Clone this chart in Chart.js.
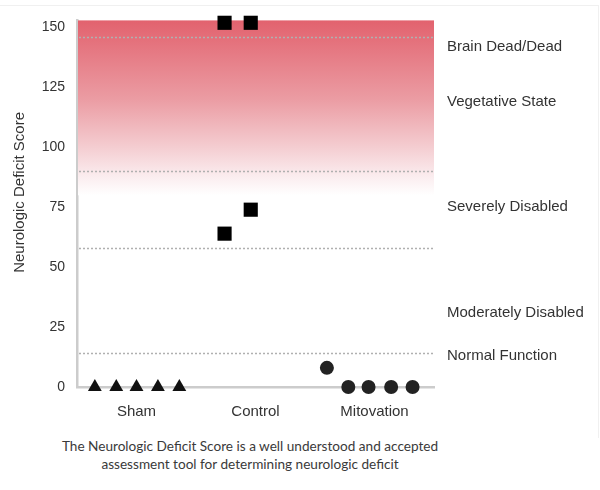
<!DOCTYPE html>
<html>
<head>
<meta charset="utf-8">
<script src="https://cdn.jsdelivr.net/npm/chart.js@4"></script>
<style>
  body { margin: 0; background: #fff; }
  #frame { position: absolute; left: 0; top: 5px; width: 598px; height: 432px; border-top: 1px solid #f0f0f0; border-right: 1px solid #f0f0f0; }
  #wrap { position: absolute; left: 0; top: 0; width: 600px; height: 430px; }
  #caption { position: absolute; left: 0; top: 437px; width: 500px; text-align: center;
    font-family: Lato, "Open Sans", sans-serif; font-size: 13.6px; line-height: 18px; color: #3a3a3a; }
</style>
</head>
<body>
<div id="frame"></div>
<div id="wrap"><canvas id="ndsChart"></canvas></div>
<div id="caption">The Neurologic Deficit Score is a well understood and accepted<br>assessment tool for determining neurologic deficit</div>
<script>
// groups on the x axis
const groups = ['Sham', 'Control', 'Mitovation'];

// neurologic deficit scores per animal
const shamScores = [0, 0, 0, 0, 0];
const controlScores = [152, 152, 64, 74];
const mitovationScores = [8, 0, 0, 0, 0];

// horizontal spread of points inside each group (beeswarm jitter)
const shamJitter = [-0.35, -0.17, 0, 0.18, 0.36];
const controlJitter = [-0.26, -0.04, -0.26, -0.04];
const mitovationJitter = [-0.40, -0.22, -0.05, 0.14, 0.32];

// dotted threshold lines and zone names on the right
const thresholds = [146, 90, 58, 14];
const zoneLabels = ['Brain Dead/Dead', 'Vegetative State', 'Severely Disabled', 'Moderately Disabled', 'Normal Function'];
const zoneLabelScores = [142, 119, 75, 31, 13];

const yTicks = [0, 25, 50, 75, 100, 125, 150];
const yTitle = 'Neurologic Deficit Score';

function toPoints(groupIndex, scores, jitter) {
  return scores.map((s, i) => ({ x: groupIndex + jitter[i], y: s }));
}

const FONT = '"Liberation Sans", Arial, sans-serif';

const zonesPlugin = {
  id: 'zones',
  beforeDatasetsDraw(chart) {
    const { ctx, chartArea, scales } = chart;
    const y = scales.y;
    const top = chartArea.top;
    const fadeEnd = y.getPixelForValue(80);
    ctx.save();
    const grad = ctx.createLinearGradient(0, top, 0, fadeEnd);
    grad.addColorStop(0, 'rgb(226,98,110)');
    grad.addColorStop(0.45, 'rgb(235,156,163)');
    grad.addColorStop(0.72, 'rgb(244,204,208)');
    grad.addColorStop(0.9, 'rgb(251,238,240)');
    grad.addColorStop(1, 'rgb(255,255,255)');
    ctx.fillStyle = grad;
    ctx.fillRect(chartArea.left + 1, top, chartArea.right - chartArea.left - 1, fadeEnd - top);

    // dotted threshold lines
    ctx.strokeStyle = '#b0b0b0';
    ctx.lineWidth = 1.5;
    ctx.setLineDash([2, 2]);
    thresholds.forEach(t => {
      const py = Math.round(y.getPixelForValue(t)) + 0.5;
      ctx.beginPath();
      ctx.moveTo(chartArea.left + 2, py);
      ctx.lineTo(chartArea.right, py);
      ctx.stroke();
    });
    ctx.restore();
  },
  afterDraw(chart) {
    const { ctx, chartArea, scales } = chart;
    ctx.save();
    ctx.font = '15px ' + FONT;
    ctx.fillStyle = '#333';
    ctx.textAlign = 'left';
    ctx.textBaseline = 'middle';
    zoneLabels.forEach((label, i) => {
      ctx.fillText(label, chartArea.right + 13, scales.y.getPixelForValue(zoneLabelScores[i]));
    });

    // y axis title, sits a little above the middle of the axis
    ctx.translate(20, chartArea.top + 172);
    ctx.rotate(-Math.PI / 2);
    ctx.textAlign = 'center';
    ctx.fillText(yTitle, 0, 0);
    ctx.restore();
  }
};

new Chart(document.getElementById('ndsChart'), {
  type: 'scatter',
  data: {
    datasets: [{
      label: 'Sham',
      data: toPoints(0, shamScores, shamJitter),
      pointStyle: 'triangle',
      pointRadius: 8,
      backgroundColor: '#111',
      borderWidth: 0,
      clip: false
    },
    {
      label: 'Control',
      data: toPoints(1, controlScores, controlJitter),
      pointStyle: 'rect',
      pointRadius: 10,
      backgroundColor: '#000',
      borderWidth: 0,
      clip: false
    },
    {
      label: 'Mitovation',
      data: toPoints(2, mitovationScores, mitovationJitter),
      pointStyle: 'circle',
      pointRadius: 7,
      backgroundColor: '#222',
      borderWidth: 0,
      clip: false
    }]
  },
  options: {
    responsive: true,
    maintainAspectRatio: false,
    animation: false,
    layout: { padding: { left: 0, right: 166, top: 20, bottom: 0 } },
    plugins: {
      legend: { display: false },
      tooltip: { enabled: false }
    },
    scales: {
      x: {
        type: 'linear',
        min: -0.5,
        max: 2.5,
        afterBuildTicks: scale => { scale.ticks = groups.map((g, i) => ({ value: i })); },
        afterFit: scale => { scale.height = 43; },
        grid: { display: false, drawTicks: false },
        border: { display: true, color: '#cccccc', width: 2.5 },
        ticks: {
          padding: 16,
          color: '#333',
          font: { family: FONT, size: 15 },
          callback: v => groups[v]
        }
      },
      y: {
        min: 0,
        max: 153,
        afterBuildTicks: scale => { scale.ticks = yTicks.map(v => ({ value: v })); },
        afterFit: scale => { scale.width = 77; },
        grid: { display: false, drawTicks: false },
        border: { display: true, color: '#cccccc', width: 2.5 },
        ticks: {
          padding: 12,
          color: '#333',
          font: { family: FONT, size: 14 }
        }
      }
    }
  },
  plugins: [zonesPlugin]
});
</script>
</body>
</html>
